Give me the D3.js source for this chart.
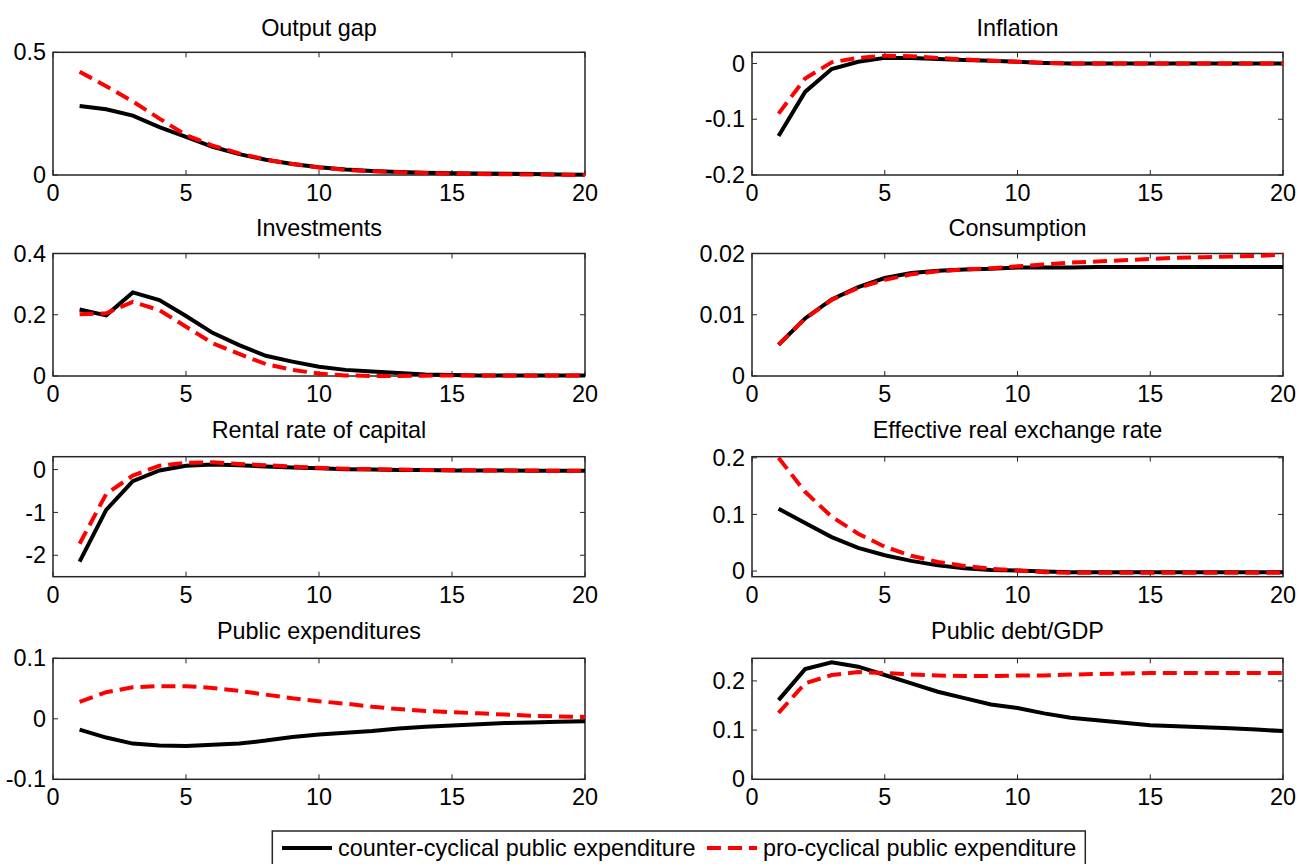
<!DOCTYPE html>
<html>
<head>
<meta charset="utf-8">
<script src="https://cdn.jsdelivr.net/npm/d3@7"></script>
<style>
  html, body { margin: 0; padding: 0; background: #fff; }
  svg { display: block; font-family: "Liberation Sans", Arial, sans-serif; }
</style>
</head>
<body>
<div id="chart"></div>
<script>
// horizon (quarters)
const periods = [1, 2, 3, 4, 5, 6, 7, 8, 9, 10, 11, 12, 13, 14, 15, 16, 17, 18, 19, 20]
const xTicks = [0, 5, 10, 15, 20]

// counter-cyclical (black) and pro-cyclical (red) responses
const outputGapCounter = [0.281, 0.268, 0.242, 0.195, 0.155, 0.115, 0.085, 0.062, 0.045, 0.032, 0.022, 0.016, 0.012, 0.009, 0.007, 0.006, 0.005, 0.004, 0.002, 0.001]
const outputGapPro     = [0.421, 0.362, 0.300, 0.230, 0.163, 0.120, 0.088, 0.063, 0.045, 0.031, 0.021, 0.015, 0.011, 0.008, 0.006, 0.004, 0.003, 0.002, 0.001, 0.000]

const inflationCounter = [-0.130, -0.051, -0.010, 0.003, 0.010, 0.010, 0.008, 0.006, 0.005, 0.003, 0.001, 0.000, 0.000, 0.000, 0.000, 0.000, 0.000, 0.000, 0.000, 0.000]
const inflationPro     = [-0.090, -0.027, 0.002, 0.010, 0.014, 0.013, 0.010, 0.007, 0.005, 0.003, 0.001, 0.000, 0.000, 0.000, 0.000, 0.000, 0.000, 0.000, 0.000, 0.000]

const investCounter = [0.217, 0.198, 0.273, 0.248, 0.196, 0.141, 0.101, 0.066, 0.047, 0.030, 0.020, 0.015, 0.010, 0.005, 0.003, 0.002, 0.002, 0.002, 0.002, 0.002]
const investPro     = [0.202, 0.205, 0.242, 0.215, 0.161, 0.107, 0.072, 0.039, 0.020, 0.008, 0.002, 0.000, 0.000, 0.001, 0.002, 0.002, 0.002, 0.002, 0.002, 0.002]

const consCounter = [0.0051, 0.0094, 0.0125, 0.0145, 0.0160, 0.0168, 0.0172, 0.0174, 0.0175, 0.0177, 0.0177, 0.0177, 0.0178, 0.0178, 0.0178, 0.0178, 0.0178, 0.0178, 0.0178, 0.0178]
const consPro     = [0.0051, 0.0094, 0.0124, 0.0144, 0.0157, 0.0166, 0.0171, 0.0174, 0.0176, 0.0179, 0.0182, 0.0185, 0.0187, 0.0189, 0.0191, 0.0193, 0.0194, 0.0195, 0.0196, 0.0198]

const rentalCounter = [-2.15, -0.94, -0.27, -0.02, 0.09, 0.12, 0.10, 0.07, 0.05, 0.03, 0.01, 0.00, -0.01, -0.01, -0.02, -0.02, -0.02, -0.03, -0.03, -0.03]
const rentalPro     = [-1.73, -0.57, -0.14, 0.09, 0.16, 0.17, 0.13, 0.10, 0.07, 0.04, 0.02, 0.01, 0.00, -0.01, -0.01, -0.02, -0.02, -0.02, -0.03, -0.03]

const exchangeCounter = [0.110, 0.085, 0.060, 0.041, 0.028, 0.018, 0.010, 0.005, 0.002, 0.001, -0.001, -0.002, -0.002, -0.002, -0.002, -0.002, -0.002, -0.002, -0.002, -0.002]
const exchangePro     = [0.200, 0.140, 0.096, 0.066, 0.043, 0.027, 0.016, 0.009, 0.004, 0.001, -0.002, -0.003, -0.003, -0.003, -0.003, -0.003, -0.003, -0.003, -0.003, -0.003]

const expendCounter = [-0.018, -0.031, -0.041, -0.044, -0.045, -0.043, -0.041, -0.036, -0.030, -0.026, -0.023, -0.020, -0.016, -0.013, -0.011, -0.009, -0.007, -0.006, -0.005, -0.004]
const expendPro     = [0.028, 0.044, 0.052, 0.054, 0.054, 0.051, 0.046, 0.040, 0.034, 0.029, 0.025, 0.020, 0.016, 0.013, 0.011, 0.009, 0.007, 0.005, 0.004, 0.003]

const debtCounter = [0.161, 0.224, 0.238, 0.229, 0.212, 0.195, 0.178, 0.165, 0.152, 0.145, 0.134, 0.125, 0.120, 0.115, 0.110, 0.108, 0.106, 0.104, 0.101, 0.098]
const debtPro     = [0.135, 0.195, 0.212, 0.218, 0.216, 0.213, 0.211, 0.210, 0.210, 0.211, 0.211, 0.213, 0.214, 0.215, 0.216, 0.216, 0.216, 0.216, 0.216, 0.216]

const titles = ["Output gap", "Inflation", "Investments", "Consumption",
                "Rental rate of capital", "Effective real exchange rate",
                "Public expenditures", "Public debt/GDP"]
const yDomains = [[0, 0.5], [-0.2, 0.02], [0, 0.4], [0, 0.02],
                  [-2.5, 0.3], [-0.01, 0.202], [-0.1, 0.1], [0, 0.246]]
const yTicks = [[0, 0.5], [-0.2, -0.1, 0], [0, 0.2, 0.4], [0, 0.01, 0.02],
                [-2, -1, 0], [0, 0.1, 0.2], [-0.1, 0, 0.1], [0, 0.1, 0.2]]
const counterSeries = [outputGapCounter, inflationCounter, investCounter, consCounter,
                       rentalCounter, exchangeCounter, expendCounter, debtCounter]
const proSeries = [outputGapPro, inflationPro, investPro, consPro,
                   rentalPro, exchangePro, expendPro, debtPro]

const legendLabels = ["counter-cyclical public expenditure", "pro-cyclical public expenditure"]

const width = 1308, height = 864
const cols = [[53, 585], [752, 1283]]
const rows = [[52.3, 175], [253.5, 376], [456.7, 576.7], [658.3, 779.3]]
const titleGap = [16, 18, 19, 19]
const frame = "#262626"
const fontSize = 23.4

const svg = d3.select("#chart").append("svg")
    .attr("width", width)
    .attr("height", height)

titles.forEach((title, i) => {
    const [x0, x1] = cols[i % 2]
    const row = Math.floor(i / 2)
    const [y0, y1] = rows[row]

    const x = d3.scaleLinear().domain([0, 20]).range([x0, x1])
    const y = d3.scaleLinear().domain(yDomains[i]).range([y1, y0])

    const g = svg.append("g")

    const clipId = "clip" + i
    g.append("clipPath").attr("id", clipId)
        .append("rect")
        .attr("x", x0).attr("y", y0 - 2)
        .attr("width", x1 - x0).attr("height", y1 - y0 + 4)

    // inward ticks on all four sides, like a boxed matlab axes
    const tickLen = 5
    g.selectAll(".xt").data(xTicks).join("g").each(function(t) {
        const s = d3.select(this)
        s.append("line").attr("x1", x(t)).attr("x2", x(t)).attr("y1", y1).attr("y2", y1 - tickLen)
        s.append("line").attr("x1", x(t)).attr("x2", x(t)).attr("y1", y0).attr("y2", y0 + tickLen)
    }).attr("stroke", frame).attr("stroke-width", 1)

    g.selectAll(".yt").data(yTicks[i]).join("g").each(function(t) {
        const s = d3.select(this)
        s.append("line").attr("x1", x0).attr("x2", x0 + tickLen).attr("y1", y(t)).attr("y2", y(t))
        s.append("line").attr("x1", x1).attr("x2", x1 - tickLen).attr("y1", y(t)).attr("y2", y(t))
    }).attr("stroke", frame).attr("stroke-width", 1)

    g.append("rect")
        .attr("x", x0).attr("y", y0)
        .attr("width", x1 - x0).attr("height", y1 - y0)
        .attr("fill", "none")
        .attr("stroke", frame)
        .attr("stroke-width", 1.5)

    // tick labels
    g.selectAll(".xl").data(xTicks).join("text")
        .attr("x", d => x(d))
        .attr("y", y1 + 26)
        .attr("text-anchor", "middle")
        .attr("font-size", fontSize)
        .attr("fill", "#000")
        .text(d => d)

    g.selectAll(".yl").data(yTicks[i]).join("text")
        .attr("x", x0 - 7)
        .attr("y", d => y(d))
        .attr("dy", "0.35em")
        .attr("text-anchor", "end")
        .attr("font-size", fontSize)
        .attr("fill", "#000")
        .text(d => d)

    g.append("text")
        .attr("x", (x0 + x1) / 2)
        .attr("y", y0 - titleGap[row])
        .attr("text-anchor", "middle")
        .attr("font-size", fontSize)
        .attr("fill", "#000")
        .text(title)

    const line = d3.line()
        .x((d, k) => x(periods[k]))
        .y(d => y(d))

    g.append("path")
        .attr("clip-path", `url(#${clipId})`)
        .attr("d", line(counterSeries[i]))
        .attr("fill", "none")
        .attr("stroke", "#000")
        .attr("stroke-width", 4)

    g.append("path")
        .attr("clip-path", `url(#${clipId})`)
        .attr("d", line(proSeries[i]))
        .attr("fill", "none")
        .attr("stroke", "#ff0000")
        .attr("stroke-width", 4)
        .attr("stroke-dasharray", "14,7")
})

// legend
const legend = svg.append("g")
legend.append("rect")
    .attr("x", 272.3).attr("y", 831)
    .attr("width", 813).attr("height", 50)
    .attr("fill", "#fff")
    .attr("stroke", frame)
    .attr("stroke-width", 1.5)

const legendItems = [
    {x: 282, color: "#000", dash: null, label: legendLabels[0]},
    {x: 707, color: "#ff0000", dash: "14,7", label: legendLabels[1]}
]
legendItems.forEach(item => {
    legend.append("line")
        .attr("x1", item.x).attr("x2", item.x + 50)
        .attr("y1", 848).attr("y2", 848)
        .attr("stroke", item.color)
        .attr("stroke-width", 4)
        .attr("stroke-dasharray", item.dash)
    legend.append("text")
        .attr("x", item.x + 56)
        .attr("y", 848)
        .attr("dy", "0.35em")
        .attr("font-size", fontSize)
        .attr("fill", "#000")
        .text(item.label)
})
</script>
</body>
</html>
